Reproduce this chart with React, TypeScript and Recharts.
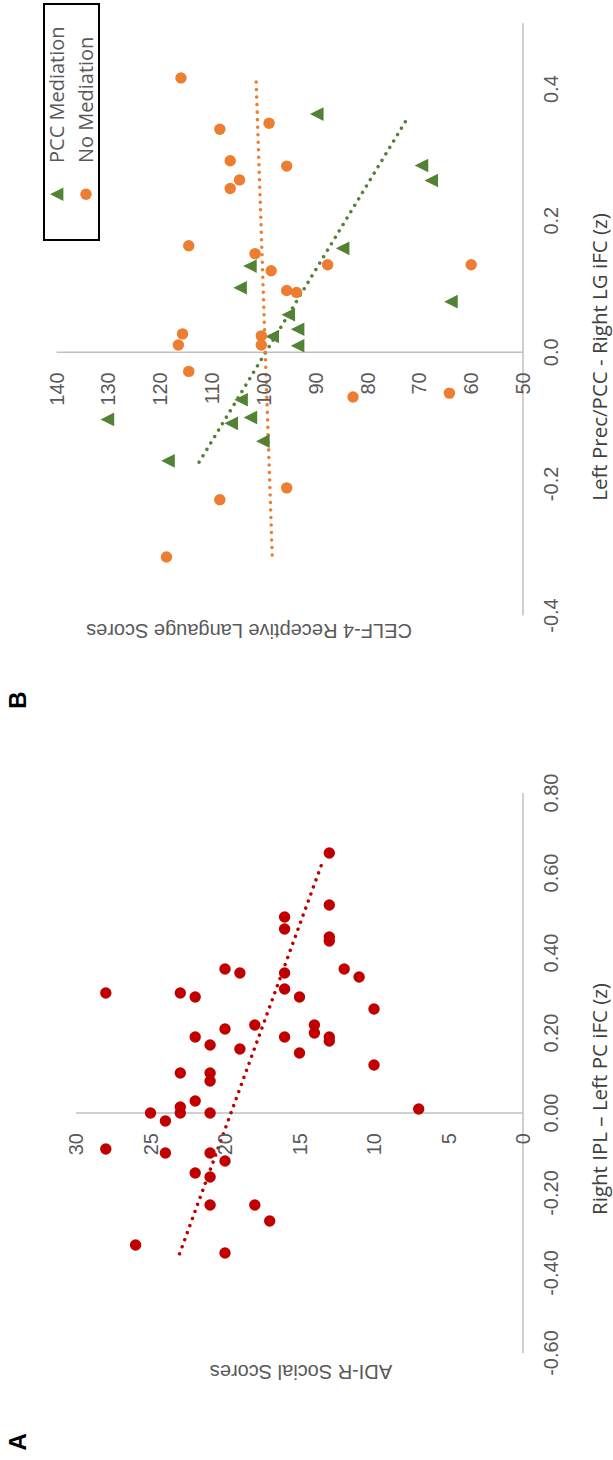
import React from "react";
import { ScatterChart, Scatter, XAxis, YAxis, ReferenceLine, Legend } from "recharts";

// Panel A: Right IPL – Left PC iFC (z) vs ADI-R Social Scores
const adiIfc = [
  0.65, 0.52, 0.49, 0.46, 0.44, 0.43, 0.36, 0.35, 0.35, 0.36, 0.34, 0.3, 0.3, 0.29, 0.31, 0.29, 0.26,
  0.21, 0.22, 0.22, 0.2, 0.19, 0.18, 0.19, 0.17, 0.19, 0.16, 0.15, 0.12, 0.1, 0.1, 0.08, 0.03, 0.015,
  0.0, 0.0, 0.0, 0.01, -0.02, -0.09, -0.1, -0.1, -0.12, -0.15, -0.16, -0.23, -0.23, -0.27, -0.33, -0.35,
];
const adiScore = [
  13, 13, 16, 16, 13, 13, 20, 19, 16, 12, 11, 28, 23, 22, 16, 15, 10,
  20, 18, 14, 14, 13, 13, 22, 21, 16, 19, 15, 10, 23, 21, 21, 22, 23,
  23, 25, 21, 7, 24, 28, 24, 21, 20, 22, 21, 21, 18, 17, 26, 20,
];
const adiTrendX = [-0.352, 0.623];
const adiTrendY = [23.05, 13.5];
const xTicksA = [-0.6, -0.4, -0.2, 0, 0.2, 0.4, 0.6, 0.8];
const yTicksA = [0, 5, 10, 15, 20, 25, 30];

// Panel B: Left Prec/PCC - Right LG iFC (z) vs CELF-4 receptive language
const noMedIfc = [
  0.417, 0.348, 0.339, 0.291, 0.283, 0.262, 0.249, 0.162, 0.15, 0.124, 0.133, 0.133,
  0.094, 0.091, 0.028, 0.011, 0.025, 0.011, -0.029, -0.068, -0.062, -0.206, -0.224, -0.311,
];
const noMedScore = [
  116, 99, 108.5, 106.5, 95.6, 104.7, 106.5, 114.5, 101.7, 98.6, 87.7, 60,
  95.6, 93.7, 115.7, 116.5, 100.5, 100.5, 114.5, 82.8, 64.2, 95.6, 108.5, 118.8,
];
const pccIfc = [
  0.362, 0.284, 0.261, 0.158, 0.131, 0.098, 0.077, 0.057, 0.035, 0.024, 0.01,
  -0.102, -0.072, -0.099, -0.108, -0.135, -0.165,
];
const pccScore = [
  89.8, 69.6, 67.7, 84.8, 102.7, 104.6, 63.9, 95.3, 93.5, 98.4, 93.5,
  130.2, 104.4, 102.6, 106.3, 100.2, 118.5,
];
const pccTrendX = [-0.167, 0.357];
const pccTrendY = [112.5, 72.2];
const noMedTrendX = [-0.308, 0.414];
const noMedTrendY = [98.4, 101.5];
const xTicksB = [-0.4, -0.2, 0, 0.2, 0.4];
const yTicksB = [50, 60, 70, 80, 90, 100, 110, 120, 130, 140];

const RED = "#C00000";
const ORANGE = "#ED7D31";
const GREEN = "#548235";
const AXIS = "#BFBFBF";
const TICK = "#595959";
const TICK_FONT = "Liberation Sans";
const TITLE_FONT = "Open Sans";

const PANEL_W = 730;
const PANEL_H = 613;
const X_AXIS_H = 40;
const Y_AXIS_W = 40;

// plot area edges (left = margin.left + Y_AXIS_W)
const marginA = { top: 76, right: 63, bottom: 50, left: 107 - Y_AXIS_W };
const domainXA: [number, number] = [-0.6, 0.8];
const marginB = { top: 56.6, right: 23.3, bottom: 50, left: 114.5 - Y_AXIS_W };
const domainXB: [number, number] = [-0.4, 0.5];

const zeroX = (m: typeof marginA, d: [number, number]) => {
  const left = m.left + Y_AXIS_W;
  return left + ((PANEL_W - left - m.right) * (0 - d[0])) / (d[1] - d[0]);
};

const toPts = (xs: number[], ys: number[]) => xs.map((x, i) => ({ x, y: ys[i] }));

const XTick = ({ x, y, payload, digits }: any) => (
  <text x={x} y={y + 35} textAnchor="middle" fill={TICK} fontSize={20} fontFamily={TICK_FONT}>
    {Number(payload.value).toFixed(digits)}
  </text>
);

const YTick = ({ y, payload, zx }: any) => (
  <text x={zx - 20} y={y + 7} textAnchor="end" fill={TICK} fontSize={20} fontFamily={TICK_FONT}>
    {payload.value}
  </text>
);

const Dot = (color: string) => (p: any) => <circle cx={p.cx} cy={p.cy} r={5.7} fill={color} />;
const Tri = (p: any) => (
  <path
    d={`M${p.cx},${p.cy - 6.8} L${p.cx + 6.8},${p.cy + 6.8} L${p.cx - 6.8},${p.cy + 6.8} Z`}
    fill={GREEN}
  />
);

const dotted = { strokeDasharray: "0.01 7.5", strokeWidth: 3.5, strokeLinecap: "round" as const };

const LegendBox = () => (
  <div
    style={{
      width: 238,
      height: 57,
      boxSizing: "border-box",
      border: "2px solid #000",
      position: "relative",
      background: "#fff",
      fontFamily: TITLE_FONT,
      fontSize: 20,
      color: TICK,
    }}
  >
    <svg width={238} height={57} style={{ position: "absolute", left: -2, top: -2 }}>
      <path d="M46.7,7 L53.5,20.4 L39.9,20.4 Z" fill={GREEN} />
      <circle cx={46.7} cy={43} r={5.7} fill={ORANGE} />
    </svg>
    <div style={{ position: "absolute", left: 76, top: 13.6 - 2, transform: "translateY(-50%)", whiteSpace: "nowrap", lineHeight: 1 }}>
      PCC Mediation
    </div>
    <div style={{ position: "absolute", left: 76, top: 43 - 2, transform: "translateY(-50%)", whiteSpace: "nowrap", lineHeight: 1 }}>
      No Mediation
    </div>
  </div>
);

const Txt = ({ x, y, rot = 0, size = 20, font = TICK_FONT, color = TICK, bold = false, children }: any) => (
  <div
    style={{
      position: "absolute",
      left: x,
      top: y,
      transform: `translate(-50%, -50%) rotate(${rot}deg)`,
      whiteSpace: "nowrap",
      fontFamily: font,
      fontSize: size,
      color,
      fontWeight: bold ? 700 : 400,
      lineHeight: 1,
    }}
  >
    {children}
  </div>
);

export default function App() {
  const zA = zeroX(marginA, domainXA);
  const zB = zeroX(marginB, domainXB);
  return (
    <div style={{ position: "fixed", left: 0, top: 0, width: 613, height: 1460, overflow: "hidden", background: "#fff" }}>
      <div
        style={{
          position: "absolute",
          left: 0,
          top: 0,
          width: 1460,
          height: 613,
          transformOrigin: "0 0",
          transform: "translateY(1460px) rotate(-90deg)",
        }}
      >
        <div style={{ position: "absolute", left: 0, top: 0 }}>
          <ScatterChart width={PANEL_W} height={PANEL_H} margin={marginA}>
            <XAxis
              type="number"
              dataKey="x"
              domain={domainXA}
              ticks={xTicksA}
              height={X_AXIS_H}
              axisLine={{ stroke: AXIS, strokeWidth: 1.5 }}
              tickLine={false}
              tickSize={0}
              tickMargin={0}
              tick={<XTick digits={2} />}
              interval={0}
            />
            <YAxis
              type="number"
              dataKey="y"
              domain={[0, 30]}
              ticks={yTicksA}
              width={Y_AXIS_W}
              axisLine={false}
              tickLine={false}
              tick={<YTick zx={zA} />}
              interval={0}
            />
            <ReferenceLine x={0} stroke={AXIS} strokeWidth={1.5} />
            <ReferenceLine
              segment={[
                { x: adiTrendX[0], y: adiTrendY[0] },
                { x: adiTrendX[1], y: adiTrendY[1] },
              ]}
              stroke={RED}
              {...dotted}
            />
            <Scatter data={toPts(adiIfc, adiScore)} shape={Dot(RED)} isAnimationActive={false} />
          </ScatterChart>
        </div>
        <div style={{ position: "absolute", left: PANEL_W, top: 0 }}>
          <ScatterChart width={PANEL_W} height={PANEL_H} margin={marginB}>
            <XAxis
              type="number"
              dataKey="x"
              domain={domainXB}
              ticks={xTicksB}
              height={X_AXIS_H}
              axisLine={{ stroke: AXIS, strokeWidth: 1.5 }}
              tickLine={false}
              tickSize={0}
              tickMargin={0}
              tick={<XTick digits={1} />}
              interval={0}
            />
            <YAxis
              type="number"
              dataKey="y"
              domain={[50, 140]}
              ticks={yTicksB}
              width={Y_AXIS_W}
              axisLine={false}
              tickLine={false}
              tick={<YTick zx={zB} />}
              interval={0}
            />
            <ReferenceLine x={0} stroke={AXIS} strokeWidth={1.5} />
            <ReferenceLine
              segment={[
                { x: pccTrendX[0], y: pccTrendY[0] },
                { x: pccTrendX[1], y: pccTrendY[1] },
              ]}
              stroke={GREEN}
              {...dotted}
            />
            <ReferenceLine
              segment={[
                { x: noMedTrendX[0], y: noMedTrendY[0] },
                { x: noMedTrendX[1], y: noMedTrendY[1] },
              ]}
              stroke={ORANGE}
              {...dotted}
            />
            <Scatter name="PCC Mediation" data={toPts(pccIfc, pccScore)} shape={Tri} isAnimationActive={false} />
            <Scatter name="No Mediation" data={toPts(noMedIfc, noMedScore)} shape={Dot(ORANGE)} isAnimationActive={false} />
            <Legend
              layout="horizontal"
              verticalAlign="middle"
              align="center"
              wrapperStyle={{ left: 489, top: 43, width: 238, height: 57 }}
              content={() => <LegendBox />}
            />
          </ScatterChart>
        </div>
        <Txt x={18.3} y={17.5} size={24} bold color="#000">A</Txt>
        <Txt x={760} y={17.5} size={24} bold color="#000">B</Txt>
        <Txt x={88} y={301} rot={-90}>ADI-R Social Scores</Txt>
        <Txt x={361} y={599} font={TITLE_FONT} size={20.5} color="#404040">Right IPL – Left PC iFC (z)</Txt>
        <Txt x={829} y={249} rot={-90}>CELF-4 Receptive Langauge Scores</Txt>
        <Txt x={1103} y={599} font={TITLE_FONT} size={20.5} color="#404040">Left Prec/PCC - Right LG iFC (z)</Txt>
      </div>
    </div>
  );
}
